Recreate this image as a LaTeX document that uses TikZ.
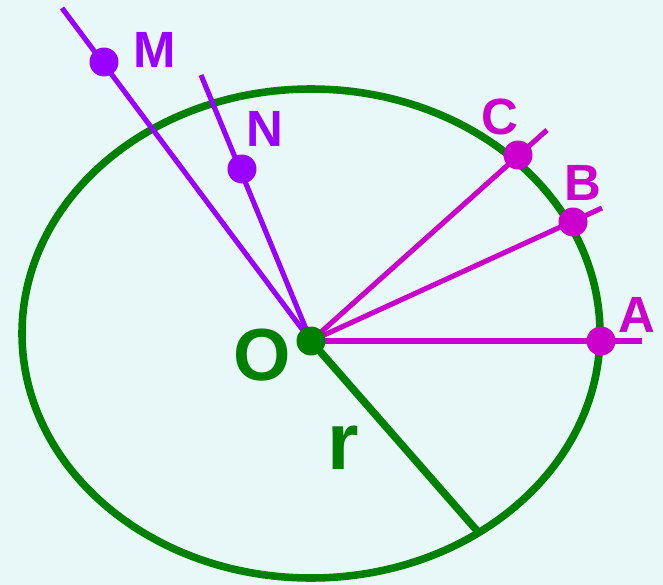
\documentclass[tikz,border=0pt]{standalone}
\usepackage{fontspec}
\setmainfont{Liberation Sans}
\usepackage{tikz}
\usetikzlibrary{positioning,calc}
\definecolor{rimgreen}{HTML}{008000}
\definecolor{outviolet}{HTML}{9900FF}
\definecolor{onmagenta}{HTML}{CC00CC}
\definecolor{paper}{HTML}{E8F8F8}

\begin{document}
\begin{tikzpicture}[
  x=0.02cm, y=-0.02cm,
  rim/.style={draw=rimgreen, line width=4.3pt},
  ray/.style={line width=2.9pt},
  dot/.style={circle, fill, inner sep=0pt, minimum size=0.58cm},
  letter/.style={inner sep=0pt, font=\fontsize{29}{29}\selectfont\bfseries}
]
% background
\fill[paper] (0,0) rectangle (663,585);
\useasboundingbox (0,0) rectangle (663,585);

% centre and points
\coordinate (O) at (311,341);
\coordinate (A) at (601,341);
\coordinate (B) at (573,222);
\coordinate (C) at (518,155);
\coordinate (M) at (104,62);
\coordinate (N) at (242,169);
\coordinate (R) at (479,533);
\coordinate (Aend) at (642,341);
\coordinate (Bend) at (602,208);
\coordinate (Cend) at (547,130);
\coordinate (Mend) at (62,8);
\coordinate (Nend) at (201,75);

% the circle
\draw[rim] (311,333.5) ellipse [x radius=289, y radius=244.5];

% rays
\draw[ray, outviolet] (O) -- (Mend);
\draw[ray, outviolet] (O) -- (Nend);
\draw[ray, onmagenta] (O) -- (Aend);
\draw[ray, onmagenta] (O) -- (Bend);
\draw[ray, onmagenta] (O) -- (Cend);
\draw[rim] (O) -- (R);

% dots
\node[dot, outviolet] (dM) at (M) {};
\node[dot, outviolet] (dN) at (N) {};
\node[dot, onmagenta] (dA) at (A) {};
\node[dot, onmagenta] (dB) at (B) {};
\node[dot, onmagenta] (dC) at (C) {};
\node[dot, rimgreen] (dO) at (O) {};

% labels
\node[letter, outviolet] (lM) at (155,50) {M};
\node[letter, outviolet] (lN) at (265,129) {N};
\node[letter, onmagenta] (lC) at (500,117) {C};
\node[letter, onmagenta] (lB) at (583,183) {B};
\node[letter, onmagenta] (lA) at (637,315) {A};
\node[inner sep=0pt, rimgreen, font=\fontsize{42}{42}\selectfont\bfseries] (lO) at (262,355) {O};
\node[inner sep=0pt, rimgreen, font=\fontsize{46}{46}\selectfont\bfseries] (lr) at (343,448) {r};
\end{tikzpicture}
\end{document}
